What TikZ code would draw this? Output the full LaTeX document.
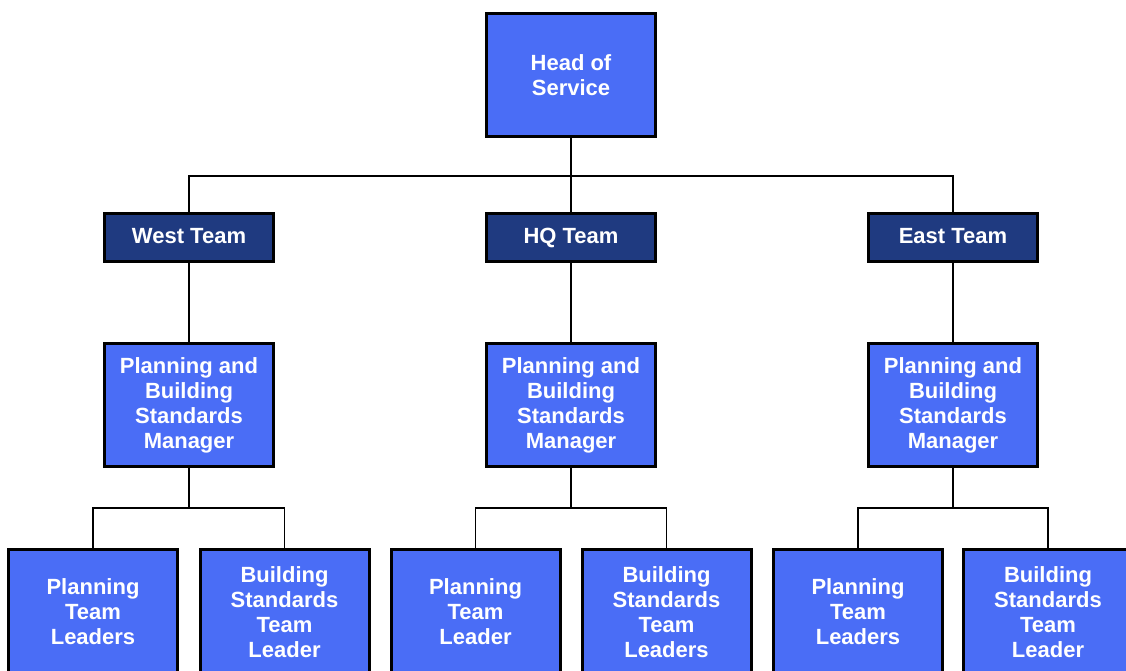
\documentclass[tikz,border=0pt]{standalone}
\usepackage{fontspec}
\setmainfont{Liberation Sans}
\definecolor{boxblue}{HTML}{4A6DF6}
\definecolor{navy}{HTML}{1F3A80}
\begin{document}
\begin{tikzpicture}[x=1pt,y=-1pt,
  blk/.style={draw=black,line width=3pt,fill=boxblue,text=white,
    font=\fontsize{22}{25}\selectfont\bfseries,align=center,
    minimum width=169pt,inner sep=0pt},
  tall/.style={blk,minimum height=123pt},
  team/.style={blk,fill=navy,minimum height=48pt,text height=15pt,text depth=4pt},
  conn/.style={draw=black,line width=1.3pt}]
\useasboundingbox (0,0) rectangle (1126,671);
\clip (0,0) rectangle (1126,671);
\node[tall] (head) at (571,75) {Head of\\Service};
\node[team] (west) at (189,237.5) {West Team};
\node[team] (hq) at (571,237.5) {HQ Team};
\node[team] (east) at (953,237.5) {East Team};
\node[tall] (wm) at (189,405) {Planning and\\Building\\Standards\\Manager};
\node[tall] (hm) at (571,405) {Planning and\\Building\\Standards\\Manager};
\node[tall] (em) at (953,405) {Planning and\\Building\\Standards\\Manager};
\node[tall,minimum height=125pt] (wp) at (93,612) {Planning\\Team\\Leaders};
\node[tall,minimum height=125pt] (wb) at (284.5,612) {Building\\Standards\\Team\\Leader};
\node[tall,minimum height=125pt] (hp) at (475.5,612) {Planning\\Team\\Leader};
\node[tall,minimum height=125pt] (hb) at (666.5,612) {Building\\Standards\\Team\\Leaders};
\node[tall,minimum height=125pt] (ep) at (858,612) {Planning\\Team\\Leaders};
\node[tall,minimum height=125pt] (eb) at (1048,612) {Building\\Standards\\Team\\Leader};
\coordinate (bus) at (571,176);
\coordinate (wbus) at (189,508);
\coordinate (hbus) at (571,508);
\coordinate (ebus) at (953,508);
\draw[conn] (head.south) -- (bus);
\draw[conn] (west.north) |- (bus);
\draw[conn] (east.north) |- (bus);
\draw[conn] (hq.north) -- (bus);
\draw[conn] (west.south) -- (wm.north);
\draw[conn] (hq.south) -- (hm.north);
\draw[conn] (east.south) -- (em.north);
\draw[conn] (wm.south) -- (wbus);
\draw[conn] (wp.north) |- (wbus);
\draw[conn] (wb.north) |- (wbus);
\draw[conn] (hm.south) -- (hbus);
\draw[conn] (hp.north) |- (hbus);
\draw[conn] (hb.north) |- (hbus);
\draw[conn] (em.south) -- (ebus);
\draw[conn] (ep.north) |- (ebus);
\draw[conn] (eb.north) |- (ebus);
\end{tikzpicture}
\end{document}
